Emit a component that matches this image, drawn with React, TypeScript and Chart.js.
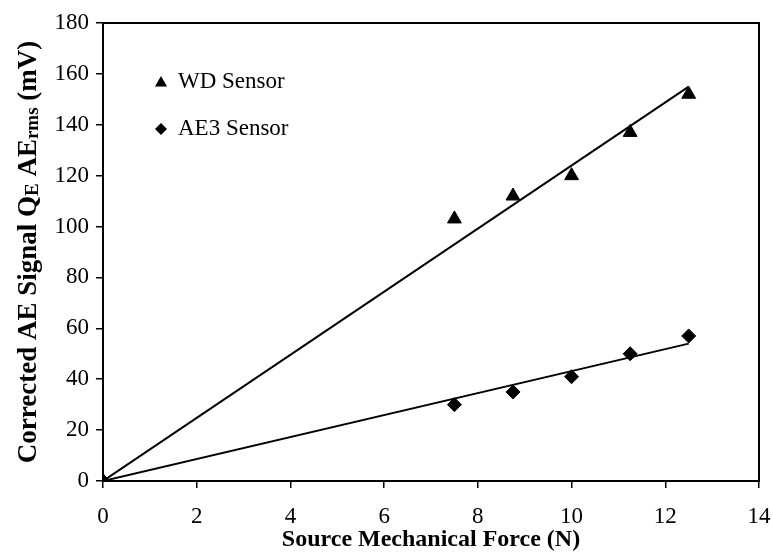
import React, { useEffect, useRef } from 'react';
import { Chart, registerables } from 'chart.js';

Chart.register(...registerables);

// ---- Data ----
const forceN = [0, 7.5, 8.75, 10, 11.25, 12.5];
const wdSignal = [0, 103, 112, 120, 137, 152];
const ae3Signal = [0, 30, 35, 41, 50, 57];
const fitForce = [0, 12.5];
const wdFit = [0, 155];
const ae3Fit = [0, 54];
const seriesNames = ['WD Sensor', 'AE3 Sensor'];
const xTitle = 'Source Mechanical Force (N)';
const yTitleParts: [string, boolean][] = [
  ['Corrected AE Signal Q', false],
  ['E', true],
  [' AE', false],
  ['rms', true],
  [' (mV)', false],
];
const xMin = 0, xMax = 14, xStep = 2;
const yMin = 0, yMax = 180, yStep = 20;

const FONT = '"Liberation Serif", "Times New Roman", serif';

const toXY = (xs: number[], ys: number[]) => xs.map((x, i) => ({ x, y: ys[i] }));

function drawTriangle(ctx: CanvasRenderingContext2D, x: number, y: number, r: number) {
  ctx.beginPath();
  for (let k = 0; k < 3; k++) {
    const a = (k * 2 * Math.PI) / 3;
    const px = x + Math.sin(a) * r;
    const py = y - Math.cos(a) * r;
    if (k === 0) ctx.moveTo(px, py); else ctx.lineTo(px, py);
  }
  ctx.closePath();
  ctx.fill();
}
function drawDiamond(ctx: CanvasRenderingContext2D, x: number, y: number, r: number) {
  ctx.beginPath();
  ctx.moveTo(x, y - r);
  ctx.lineTo(x + r, y);
  ctx.lineTo(x, y + r);
  ctx.lineTo(x - r, y);
  ctx.closePath();
  ctx.fill();
}

const framePlugin = {
  id: 'frame',
  beforeDatasetsDraw(chart: any) {
    const { ctx, chartArea: a } = chart;
    ctx.save();
    ctx.strokeStyle = '#000';
    ctx.lineWidth = 2;
    ctx.strokeRect(a.left, a.top, a.right - a.left, a.bottom - a.top);
    ctx.restore();
  },
};

const yTitlePlugin = {
  id: 'yTitle',
  afterDraw(chart: any) {
    const { ctx, chartArea: a } = chart;
    const big = `bold 27px ${FONT}`;
    const small = `bold 19px ${FONT}`;
    ctx.save();
    ctx.fillStyle = '#000';
    ctx.textBaseline = 'alphabetic';
    ctx.textAlign = 'left';
    let total = 0;
    for (const [t, s] of yTitleParts) {
      ctx.font = s ? small : big;
      total += ctx.measureText(t).width;
    }
    ctx.translate(36, (a.top + a.bottom) / 2);
    ctx.rotate(-Math.PI / 2);
    let x = -total / 2;
    for (const [t, s] of yTitleParts) {
      ctx.font = s ? small : big;
      ctx.fillText(t, x, s ? 2 : 0);
      x += ctx.measureText(t).width;
    }
    ctx.restore();
  },
};

const legendPlugin = {
  id: 'customLegend',
  afterDraw(chart: any) {
    const { ctx, chartArea: a } = chart;
    ctx.save();
    ctx.fillStyle = '#000';
    ctx.font = `23px ${FONT}`;
    ctx.textBaseline = 'middle';
    ctx.textAlign = 'left';
    const mx = a.left + 58;
    const y1 = a.top + 59;
    const y2 = a.top + 106;
    drawTriangle(ctx, mx, y1 + 1, 7);
    ctx.fillText(seriesNames[0], mx + 17, y1);
    drawDiamond(ctx, mx, y2, 6);
    ctx.fillText(seriesNames[1], mx + 17, y2);
    ctx.restore();
  },
};

export default function App() {
  const ref = useRef<HTMLCanvasElement | null>(null);
  useEffect(() => {
    if (!ref.current) return;
    const chart = new Chart(ref.current, {
      type: 'scatter',
      data: {
        datasets: [
          {
            label: seriesNames[0] + ' fit',
            data: toXY(fitForce, wdFit),
            showLine: true,
            borderColor: '#000',
            borderWidth: 2,
            pointRadius: 0,
          },
          {
            label: seriesNames[1] + ' fit',
            data: toXY(fitForce, ae3Fit),
            showLine: true,
            borderColor: '#000',
            borderWidth: 2,
            pointRadius: 0,
          },
          {
            label: seriesNames[0],
            data: toXY(forceN, wdSignal),
            pointStyle: 'triangle',
            pointRadius: 8,
            backgroundColor: '#000',
            borderColor: '#000',
            borderWidth: 1,
          },
          {
            label: seriesNames[1],
            data: toXY(forceN, ae3Signal),
            pointStyle: 'rectRot',
            pointRadius: 7,
            backgroundColor: '#000',
            borderColor: '#000',
            borderWidth: 1,
          },
        ],
      },
      options: {
        responsive: false,
        animation: false,
        layout: { padding: { top: 23, right: 14, left: 0, bottom: 0 } },
        plugins: {
          legend: { display: false },
          tooltip: { enabled: false },
        },
        scales: {
          x: {
            type: 'linear',
            min: xMin,
            max: xMax,
            ticks: {
              stepSize: xStep,
              color: '#000',
              font: { family: FONT, size: 23 },
              padding: 15,
              maxRotation: 0,
            },
            grid: {
              display: true,
              drawOnChartArea: false,
              drawTicks: true,
              tickLength: 7,
              color: '#000',
              lineWidth: 1.5,
            },
            border: { display: false },
            title: {
              display: true,
              text: xTitle,
              color: '#000',
              font: { family: FONT, size: 24, weight: 'bold' },
              padding: { top: 0, bottom: 3 },
            },
            afterFit(scale: any) {
              scale.height = 76;
              scale.paddingLeft = 0;
              scale.paddingRight = 0;
            },
          },
          y: {
            type: 'linear',
            min: yMin,
            max: yMax,
            ticks: {
              stepSize: yStep,
              color: '#000',
              font: { family: FONT, size: 23 },
              padding: 7,
            },
            grid: {
              display: true,
              drawOnChartArea: false,
              drawTicks: true,
              tickLength: 7,
              color: '#000',
              lineWidth: 1.5,
            },
            border: { display: false },
            afterFit(scale: any) {
              scale.width = 103;
              scale.paddingTop = 0;
              scale.paddingBottom = 0;
            },
          },
        },
      },
      plugins: [framePlugin, yTitlePlugin, legendPlugin],
    } as any);
    return () => chart.destroy();
  }, []);
  return (
    <div style={{ position: 'fixed', left: 0, top: 0, width: 773, height: 557, background: '#fff' }}>
      <canvas ref={ref} width={773} height={557} />
    </div>
  );
}
